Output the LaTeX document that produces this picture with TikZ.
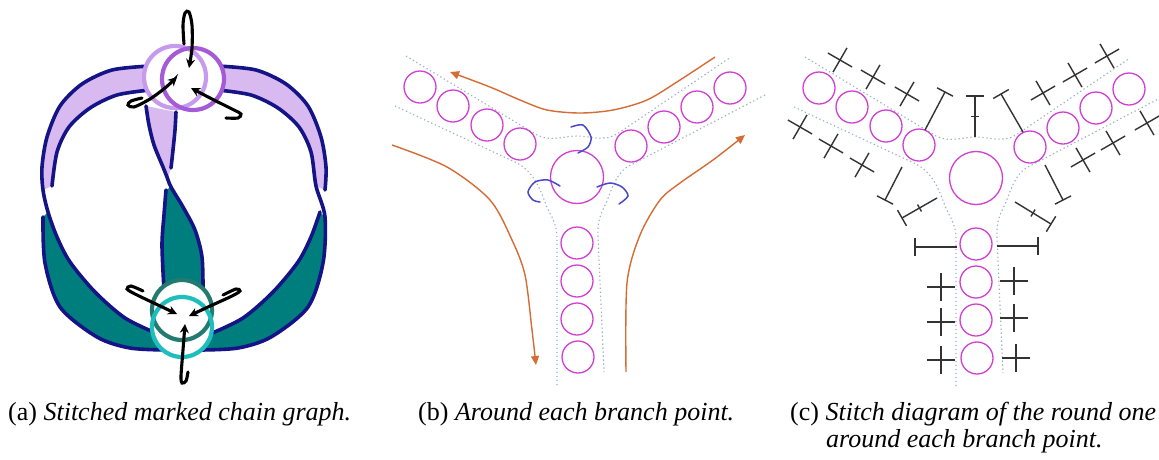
\documentclass[tikz,border=0pt]{standalone}
\usepackage{fontspec}
\setmainfont{Liberation Serif}
\usetikzlibrary{arrows.meta,calc}
\definecolor{navy}{RGB}{20,20,135}
\definecolor{lav}{RGB}{216,186,240}
\definecolor{tealf}{RGB}{0,126,126}
\definecolor{purA}{RGB}{198,155,238}
\definecolor{purB}{RGB}{165,90,215}
\definecolor{tealA}{RGB}{35,122,112}
\definecolor{tealB}{RGB}{30,190,190}
\definecolor{mag}{RGB}{208,64,208}
\definecolor{dotc}{RGB}{155,175,198}
\definecolor{orng}{RGB}{212,108,52}
\definecolor{bluearc}{RGB}{72,72,200}
\newcommand{\beadset}[1]{%
\node[bigbead] (#1o) at (0,0) {};
\node[bead] (#1l1) at (-157,-90) {};
\node[bead] (#1l2) at (-124,-71) {};
\node[bead] (#1l3) at (-90,-52) {};
\node[bead] (#1l4) at (-57,-33) {};
\node[bead] (#1r1) at (54,-31) {};
\node[bead] (#1r2) at (87,-50) {};
\node[bead] (#1r3) at (120,-70) {};
\node[bead] (#1r4) at (153,-89) {};
\node[bead] (#1b1) at (0,66) {};
\node[bead] (#1b2) at (0,104) {};
\node[bead] (#1b3) at (0,142) {};
\node[bead] (#1b4) at (1,180) {};
}
\newcommand{\chanlines}{%
\draw[chan] (-171,-121) -- (-40,-42) .. controls (-27,-35) and (-13,-41) .. (0,-41) .. controls (13,-41) and (27,-35) .. (40,-43) -- (154,-120);
\draw[chan] (-182,-71) -- (-60,-14) .. controls (-45,-6) and (-38,8) .. (-31,28) .. controls (-26,40) and (-20,45) .. (-20,62) -- (-20,208);
\draw[chan] (188,-82) -- (50,-10) .. controls (40,-3) and (36,8) .. (30,24) .. controls (25,35) and (20,42) .. (21,60) -- (27,195);
}
\newcommand{\xst}[3]{\begin{scope}[shift={(#1,#2)},rotate=#3]\draw[stitch] (-14,0) -- (14,0) (0,-14) -- (0,14);\end{scope}}
\newcommand{\tstitch}[4]{\draw[stitch] (#1,#2) -- (#3,#4);
\draw[stitch] ($(#3,#4)!9pt!90:(#1,#2)$) -- ($(#3,#4)!9pt!-90:(#1,#2)$);}
\newcommand{\tstitchk}[4]{\tstitch{#1}{#2}{#3}{#4}
\coordinate (tm) at ($(#1,#2)!0.5!(#3,#4)$);
\draw[stitch] ($(tm)!4pt!90:(#3,#4)$) -- ($(tm)!4pt!-90:(#3,#4)$);}
\begin{document}
\begin{tikzpicture}[x=1pt,y=-1pt,
  edge/.style={draw=navy,line width=3.6pt,line cap=round},
  blk/.style={draw=black,line width=3.1pt,line cap=round,-{Stealth[length=9pt,width=9pt]}},
  ring/.style={line width=4.2pt},
  bead/.style={circle,draw=mag,line width=1.3pt,minimum size=32pt,inner sep=0pt},
  bigbead/.style={circle,draw=mag,line width=1.3pt,minimum size=53pt,inner sep=0pt},
  chan/.style={draw=dotc,line width=1.1pt,dash pattern=on 1.3pt off 2.7pt},
  orarr/.style={draw=orng,line width=1.4pt,-{Triangle[length=9pt,width=8pt]}},
  barc/.style={draw=bluearc,line width=1.5pt,line cap=round},
  stitch/.style={draw=black!80,line width=1.4pt},
  captext/.style={anchor=base west,inner sep=0pt,font=\fontsize{26}{30}\selectfont}]
\fill[white] (0,0) rectangle (1159,459);
\useasboundingbox (0,0) rectangle (1159,459);
% ================= (a) =================
% left ribbon
\fill[lav] plot[smooth] coordinates {(150,66)(112,70)(82,84)(60,106)(47,137)(42,167)(43,190)}
  -- plot[smooth] coordinates {(52,186)(57,152)(69,127)(90,108)(117,95)(150,90)} -- cycle;
\fill[tealf] plot[smooth] coordinates {(43,217)(45,263)(60,307)(97,337)(130,348)(168,350)}
  -- plot[smooth] coordinates {(158,334)(125,318)(95,292)(70,262)(57,237)(48,212)} -- cycle;
\draw[edge] plot[smooth] coordinates {(150,66)(112,70)(82,84)(60,106)(47,137)(42,167)(43,190)(48,212)(57,237)(70,262)(95,292)(125,318)(158,334)};
\draw[edge] plot[smooth] coordinates {(150,90)(117,95)(90,108)(69,127)(57,152)(52,186)};
\draw[edge] plot[smooth] coordinates {(43,217)(45,263)(60,307)(97,337)(130,348)(168,350)};
% right ribbon
\fill[lav] plot[smooth] coordinates {(218,66)(256,70)(286,84)(308,106)(321,137)(326,167)(325,190)}
  -- plot[smooth] coordinates {(316,186)(311,152)(299,127)(278,108)(251,95)(218,90)} -- cycle;
\fill[tealf] plot[smooth] coordinates {(325,217)(323,263)(308,307)(271,337)(238,348)(200,350)}
  -- plot[smooth] coordinates {(210,334)(243,318)(273,292)(298,262)(311,237)(320,212)} -- cycle;
\draw[edge] plot[smooth] coordinates {(218,66)(256,70)(286,84)(308,106)(321,137)(326,167)(325,190)};
\draw[edge] plot[smooth] coordinates {(320,212)(311,237)(298,262)(273,292)(243,318)(210,334)};
\draw[edge] plot[smooth] coordinates {(218,90)(251,95)(278,108)(299,127)(311,152)(316,186)(325,217)(323,263)(308,307)(271,337)(238,348)(200,350)};
% middle ribbon
\fill[lav] plot[smooth] coordinates {(146,106)(149,125)(154,145)(163,167)(168,178)}
  -- plot[smooth] coordinates {(171,168)(173,150)(175,130)(176,112)} -- cycle;
\fill[tealf] plot[smooth] coordinates {(166,190)(164,215)(162,245)(164,290)}
  -- plot[smooth] coordinates {(203,290)(202,257)(195,230)(183,207)(171,187)} -- cycle;
\draw[edge] plot[smooth] coordinates {(146,106)(149,125)(154,145)(163,167)(167,177)(171,187)(183,207)(195,230)(202,257)(203,290)};
\draw[edge] plot[smooth] coordinates {(176,112)(175,130)(173,150)(171,168)};
\draw[edge] plot[smooth] coordinates {(166,190)(164,215)(162,245)(164,290)};
% vertex circles
\fill[white] (175,77) circle (31) (193,79) circle (31);
\draw[ring,purA] (175,77) circle (31);
\draw[ring,purB] (193,79) circle (31);
\fill[white] (182,310) circle (30) (182,327) circle (30);
\draw[ring,tealA] (182,310) circle (30);
\draw[ring,tealB] (182,327) circle (30);
% black arrows top
\draw[blk] plot[smooth] coordinates {(184,44)(183,25)(185,13)(189,12)(192,25)(192,48)(189,68)};
\draw[blk] plot[smooth] coordinates {(142,98)(131,101)(128,105)(134,107)(150,99)(165,88)(177,77)};
\draw[blk] plot[smooth] coordinates {(226,118)(238,118)(241,114)(234,110)(212,99)(191,88)};
% black arrows bottom
\draw[blk] plot[smooth] coordinates {(143,291)(131,286)(127,289)(135,294)(158,305)(177,314)};
\draw[blk] plot[smooth] coordinates {(223,295)(236,289)(240,291)(232,296)(208,307)(189,316)};
\draw[blk] plot[smooth] coordinates {(188,372)(186,381)(182,383)(181,376)(183,350)(185,324)};
% ================= (b) =================
\begin{scope}[shift={(577,177)}]
\chanlines
\beadset{b}
\end{scope}
\draw[barc] plot[smooth] coordinates {(571,127)(583,125)(591,137)(588,147)(578,153)};
\draw[barc] plot[smooth] coordinates {(560,186)(548,180)(535,182)(528,192)(533,200)(540,202)};
\draw[barc] plot[smooth] coordinates {(597,187)(610,183)(622,187)(628,196)(619,204)};
\draw[orarr] plot[smooth] coordinates {(715,57)(680,80)(647,100)(613,110)(580,113)(547,110)(520,100)(490,87)(450,72)};
\draw[orarr] plot[smooth] coordinates {(392,145)(447,167)(490,200)(512,240)(525,275)(532,330)(536,365)};
\draw[orarr] plot[smooth] coordinates {(626,372)(627,283)(640,235)(660,200)(680,183)(713,160)(745,135)};
% ================= (c) =================
\begin{scope}[shift={(976,178)}]
\chanlines
\beadset{c}
\end{scope}
\xst{840}{60}{-30}\xst{873}{77}{-30}\xst{907}{94}{-30}
\xst{800}{127}{-30}\xst{831}{146}{-30}\xst{862}{165}{-30}
\xst{1043}{93}{30}\xst{1075}{75}{30}\xst{1107}{56}{30}
\xst{1083}{160}{30}\xst{1113}{143}{30}\xst{1147}{123}{30}
\xst{941}{287}{0}\xst{941}{322}{0}\xst{941}{360}{0}
\xst{1014}{281}{0}\xst{1014}{318}{0}\xst{1016}{358}{0}
\tstitch{925}{130}{945}{92}
\tstitchk{975}{137}{975}{96}
\tstitch{1023}{132}{1001}{94}
\tstitch{902}{167}{885}{200}
\tstitchk{937}{198}{902}{218}
\tstitch{1045}{165}{1063}{200}
\tstitchk{1015}{202}{1051}{224}
\tstitch{957}{247}{915}{247}
\tstitch{997}{246}{1038}{246}
% ================= captions =================
\node[captext] (capa) at (8,420) {(a) \textit{Stitched marked chain graph.}};
\node[captext] (capb) at (418,420) {(b) \textit{Around each branch point.}};
\node[captext] (capc) at (790,420) {(c) \textit{Stitch diagram of the round one}};
\node[captext] (capd) at (826,447) {\textit{around each branch point.}};
\end{tikzpicture}
\end{document}
